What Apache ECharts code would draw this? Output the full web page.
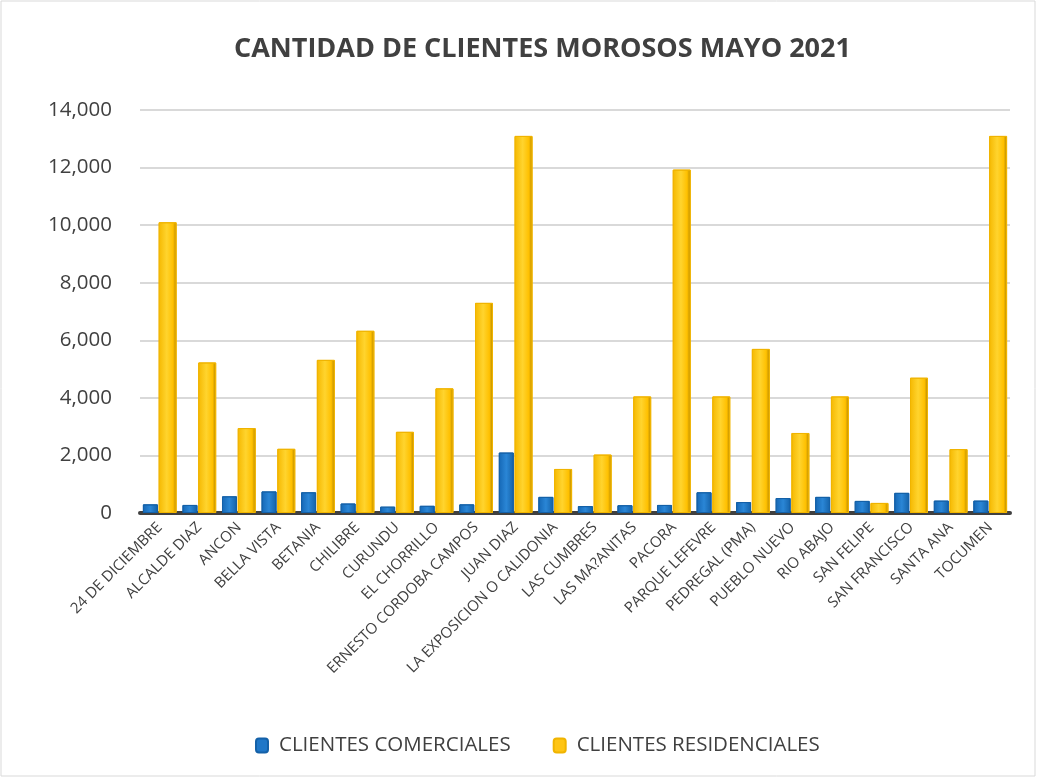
<!DOCTYPE html>
<html>
<head>
<meta charset="utf-8">
<script src="https://cdn.jsdelivr.net/npm/echarts@6/dist/echarts.min.js"></script>
<style>
  html, body { margin: 0; padding: 0; background: #fff; }
  #chart { width: 1043px; height: 781px; }
</style>
</head>
<body>
<div id="chart"></div>
<script>
var myChart = echarts.init(document.getElementById("chart"));

// data
const categories = [
    "24 DE DICIEMBRE", "ALCALDE DIAZ", "ANCON", "BELLA VISTA", "BETANIA",
    "CHILIBRE", "CURUNDU", "EL CHORRILLO", "ERNESTO CORDOBA CAMPOS", "JUAN DIAZ",
    "LA EXPOSICION O CALIDONIA", "LAS CUMBRES", "LAS MA?ANITAS", "PACORA",
    "PARQUE LEFEVRE", "PEDREGAL (PMA)", "PUEBLO NUEVO", "RIO ABAJO",
    "SAN FELIPE", "SAN FRANCISCO", "SANTA ANA", "TOCUMEN"
];
const comerciales = [
    300, 280, 580, 750, 720, 330, 220, 250, 300, 2100,
    560, 240, 270, 280, 720, 380, 520, 560, 420, 700, 430, 430
];
const residenciales = [
    10100, 5230, 2950, 2230, 5320, 6330, 2820, 4330, 7300, 13100,
    1530, 2030, 4050, 11930, 4050, 5700, 2780, 4050, 350, 4700, 2220, 13100
];

const yellow = new echarts.graphic.LinearGradient(0, 0, 1, 0, [
    { offset: 0, color: "#F5B800" },
    { offset: 0.45, color: "#FFD42E" },
    { offset: 0.8, color: "#FFC000" },
    { offset: 1, color: "#B08400" }
]);
const blue = new echarts.graphic.LinearGradient(0, 0, 1, 0, [
    { offset: 0, color: "#1567B5" },
    { offset: 0.5, color: "#2A86D6" },
    { offset: 1, color: "#1461A8" }
]);

var option = {
    textStyle: { fontFamily: "Open Sans" },
    title: {
        text: "CANTIDAD DE CLIENTES MOROSOS MAYO 2021",
        left: 229,
        top: 31,
        textStyle: { fontSize: 27, fontWeight: "bold", color: "#404040" }
    },
    legend: {
        bottom: 20,
        left: 250,
        itemWidth: 12,
        itemHeight: 14,
        itemGap: 42,
        textStyle: { fontSize: 20.5, color: "#404040", padding: [0, 0, 0, 6] },
        data: [
            { name: "CLIENTES COMERCIALES", itemStyle: { color: "#1F77C8" } },
            { name: "CLIENTES RESIDENCIALES", itemStyle: { color: "#FFC514" } }
        ]
    },
    grid: { left: 140, right: 33, top: 110, bottom: 268 },
    xAxis: {
        type: "category",
        data: categories,
        axisLine: { lineStyle: { color: "#404040", width: 4 } },
        axisTick: { show: false },
        axisLabel: {
            rotate: 45,
            interval: 0,
            fontSize: 15,
            color: "#404040",
            margin: 12
        }
    },
    yAxis: {
        type: "value",
        min: 0,
        max: 14000,
        interval: 2000,
        axisLabel: {
            fontSize: 20.5,
            color: "#404040",
            margin: 28,
            formatter: function (v) { return v.toLocaleString("en-US"); }
        },
        splitLine: { lineStyle: { color: "#D9D9D9", width: 2 } }
    },
    series: [
        {
            name: "CLIENTES COMERCIALES",
            type: "bar",
            data: comerciales,
            barWidth: 15,
            barGap: "5%",
            itemStyle: { color: blue, borderColor: "#1461A8", borderWidth: 1 }
        },
        {
            name: "CLIENTES RESIDENCIALES",
            type: "bar",
            data: residenciales,
            barWidth: 18,
            itemStyle: { color: yellow, borderColor: "#F0B400", borderWidth: 1 }
        }
    ],
    graphic: [
        {
            type: "rect",
            shape: { x: 1, y: 1, width: 1034, height: 775 },
            style: { fill: "none", stroke: "#D9D9D9", lineWidth: 1 },
            z: -1
        }
    ]
};

myChart.setOption(option);
</script>
</body>
</html>
